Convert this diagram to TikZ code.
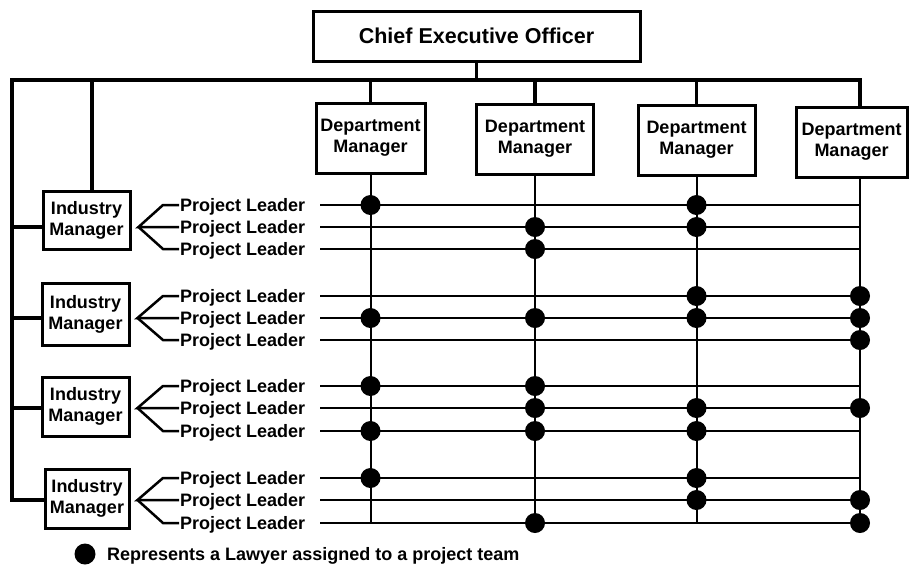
\documentclass[tikz,border=0pt]{standalone}
\usepackage{fontspec}
\setmainfont{Liberation Sans}
\usetikzlibrary{calc}
\begin{document}
\begin{tikzpicture}[x=1pt,y=-1pt,
  box/.style={draw, line width=3pt, inner sep=0pt, align=center,
              font=\bfseries\fontsize{18}{21}\selectfont},
  bus/.style={line width=3.2pt},
  rowline/.style={line width=2pt},
  colline/.style={line width=2pt},
  fork/.style={line width=2.5pt, line join=miter},
  lawyer/.style={circle, fill=black, inner sep=0pt, minimum size=20pt},
  pltext/.style={anchor=base west, inner sep=0pt, font=\bfseries\fontsize{18}{20}\selectfont}]
\useasboundingbox (0,0) rectangle (909,566);

% top boxes
\node[box, minimum width=327pt, minimum height=50pt,
      font=\bfseries\fontsize{21.5}{24}\selectfont] (ceo) at (476.5,36) {Chief Executive Officer};
\node[box, minimum width=109pt, minimum height=70pt] (dm1) at (370.5,138) {Department\\Manager};
\node[box, minimum width=117pt, minimum height=70pt] (dm2) at (535,139) {Department\\Manager};
\node[box, minimum width=117pt, minimum height=70pt] (dm3) at (696.5,140) {Department\\Manager};
\node[box, minimum width=111pt, minimum height=70pt] (dm4) at (851.5,142) {Department\\Manager};

% column coordinates
\coordinate (c1) at (370.5,0);
\coordinate (c2) at (535,0);
\coordinate (c3) at (696.5,0);
\coordinate (c4) at (860,0);

% bus coordinates
\coordinate (bl) at (12,80);
\coordinate (v2) at (92,80);

% rows
\foreach \i/\y in {1/205,2/227,3/249,4/296,5/318,6/340,7/386,8/408,9/431,10/478,11/500,12/523}{
  \coordinate (r\i) at (320,\y);
  \coordinate (ft\i) at (179,\y);
  \node[pltext] (pl\i) at (180,\y+6.5) {Project Leader};
}

% industry managers
\node[box, minimum width=87pt, minimum height=58pt] (im1) at (86.5,220) {Industry\\Manager};
\node[box, minimum width=87pt, minimum height=62pt] (im2) at (85.5,314) {Industry\\Manager};
\node[box, minimum width=87pt, minimum height=59pt] (im3) at (85.5,406.5) {Industry\\Manager};
\node[box, minimum width=84pt, minimum height=59pt] (im4) at (87,498.5) {Industry\\Manager};

% bus lines
\draw[bus] (ceo.south) -- (ceo.south |- bl);
\draw[bus] (c4 |- dm4.north) |- (bl) |- (im4.west |- r11);
\draw[bus] (v2) -- (v2 |- im1.north);
\draw[bus] (bl |- r2) -- (im1.west |- r2);
\draw[bus] (bl |- r5) -- (im2.west |- r5);
\draw[bus] (bl |- r8) -- (im3.west |- r8);
\draw[bus] (dm1.north) -- (dm1.north |- bl);
\draw[bus] (dm2.north) -- (dm2.north |- bl);
\draw[bus] (dm3.north) -- (dm3.north |- bl);

% columns
\draw[colline] (c1 |- dm1.south) -- (c1 |- r12);
\draw[colline] (c2 |- dm2.south) -- (c2 |- r12);
\draw[colline] (c3 |- dm3.south) -- (c3 |- r12);
\draw[colline] (c4 |- dm4.south) -- (c4 |- r12);

% row lines
\foreach \i in {1,...,12}{
  \draw[rowline] (r\i) -- (r\i -| c4);
}

% forks
\foreach \g/\a/\b/\c in {1/1/2/3,2/4/5/6,3/7/8/9,4/10/11/12}{
  \coordinate (ap\g) at ($(im\g.east |- ft\b)+(7,0)$);
  \draw[fork] (ft\a) -- ++(-16,0) -- (ap\g) -- (ft\b);
  \draw[fork] (ft\c) -- ++(-16,0) -- (ap\g);
}

% lawyers
\foreach \i/\c in {1/1,1/3,2/2,2/3,3/2,4/3,4/4,5/1,5/2,5/3,5/4,6/4,
                   7/1,7/2,8/2,8/3,8/4,9/1,9/2,9/3,10/1,10/3,11/3,11/4,12/2,12/4}{
  \node[lawyer] (law\i-\c) at (c\c |- r\i) {};
}

% legend
\node[lawyer, minimum size=21pt] (leg) at (85,554) {};
\node[pltext] (legtext) at (107,560) {Represents a Lawyer assigned to a project team};
\end{tikzpicture}
\end{document}
